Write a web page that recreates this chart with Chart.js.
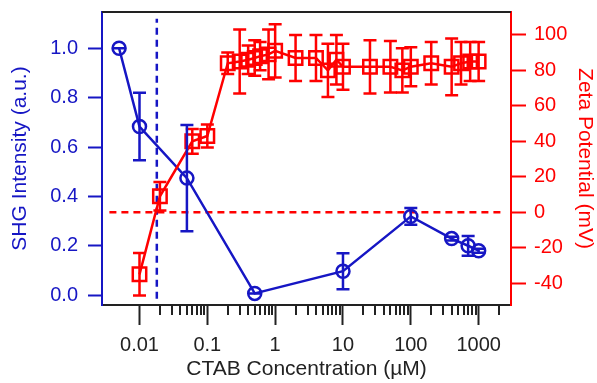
<!DOCTYPE html>
<html>
<head>
<meta charset="utf-8">
<script src="https://cdn.jsdelivr.net/npm/chart.js@4.4.1/dist/chart.umd.min.js"></script>
<style>
  html, body { margin: 0; padding: 0; background: #fff; }
  #wrap { width: 597px; height: 383px; }
</style>
</head>
<body>
<div id="wrap"><canvas id="c"></canvas></div>
<script>
/* SHG intensity (left axis, blue circles) */
const blueConc = [0.005, 0.01, 0.05, 0.5, 10, 100, 400, 700, 1000];
const blueShg  = [1.0, 0.683, 0.474, 0.007, 0.097, 0.319, 0.229, 0.2, 0.18];
const blueErr  = [0, 0.137, 0.215, 0, 0.073, 0.034, 0.008, 0.04, 0.008];

/* zeta potential (right axis, red squares) */
const redConc = [0.01, 0.02, 0.06, 0.1, 0.2, 0.3, 0.4, 0.5, 0.6, 0.8, 1, 2, 4, 6, 8, 10, 25, 50, 75, 100, 200, 400, 550, 750, 1000];
const redZeta = [-35, 9, 40, 43, 84, 85, 86, 87, 88, 89, 91, 87, 87, 80, 86, 82, 82, 82, 80, 82, 84, 82, 84, 85, 85];
const redErr  = [12, 8, 7, 6.5, 6, 18, 8, 10, 8, 14, 15, 13, 13, 15, 14, 13, 15, 14.5, 12.5, 11, 12, 16, 12, 11, 11];

/* reference lines */
const cmcConc = 0.018;
const cmcLineY = [-0.015, 1.12];
const zeroLineX = [0.0036, 2400];

/* ticks */
const xMajorTicks = [0.01, 0.1, 1, 10, 100, 1000];
const xTickLabels = ['0.01', '0.1', '1', '10', '100', '1000'];
const yLeftTicks  = [0, 0.2, 0.4, 0.6, 0.8, 1.0];
const yRightTicks = [-40, -20, 0, 20, 40, 60, 80, 100];

const BLUE = '#1616c4';
const RED = '#ff0000';
const AXIS = '#222222';
const FONT = "'Liberation Sans', Arial, sans-serif";
const LW = 2.5;

const pts = (xs, ys) => xs.map((x, i) => ({x: x, y: ys[i]}));

/* vertical error bars with caps */
const errorBars = {
    id: 'errorBars',
    afterDatasetsDraw(chart) {
        const ctx = chart.ctx;
        chart.data.datasets.forEach((ds, i) => {
            if (!ds.errors) return;
            const meta = chart.getDatasetMeta(i);
            const sx = chart.scales[meta.xAxisID];
            const sy = chart.scales[meta.yAxisID];
            ctx.save();
            ctx.strokeStyle = ds.borderColor;
            ctx.lineWidth = LW;
            ds.data.forEach((p, j) => {
                const px = sx.getPixelForValue(p.x);
                const top = sy.getPixelForValue(p.y + ds.errors[j]);
                const bot = sy.getPixelForValue(p.y - ds.errors[j]);
                ctx.beginPath();
                ctx.moveTo(px, top); ctx.lineTo(px, bot);
                ctx.moveTo(px - 6.5, top); ctx.lineTo(px + 6.5, top);
                ctx.moveTo(px - 6.5, bot); ctx.lineTo(px + 6.5, bot);
                ctx.stroke();
            });
            ctx.restore();
        });
    }
};

/* minor log ticks on x and the top frame line */
const frame = {
    id: 'frame',
    afterDraw(chart) {
        const ctx = chart.ctx;
        const area = chart.chartArea;
        const sx = chart.scales.x;
        ctx.save();
        ctx.strokeStyle = AXIS;
        ctx.lineWidth = 2;
        ctx.beginPath();
        xMajorTicks.forEach(d => {
            for (let m = 2; m <= 9; m++) {
                const v = m * d;
                if (v >= sx.max) continue;
                const px = Math.round(sx.getPixelForValue(v));
                ctx.moveTo(px, area.bottom);
                ctx.lineTo(px, area.bottom + 10);
            }
        });
        ctx.moveTo(area.left, area.top);
        ctx.lineTo(area.right, area.top);
        ctx.stroke();
        ctx.restore();
    }
};

new Chart(document.getElementById('c'), {
    type: 'line',
    data: {
        datasets: [
            {
                label: 'Zeta Potential',
                data: pts(redConc, redZeta),
                errors: redErr,
                yAxisID: 'y2',
                borderColor: RED,
                borderWidth: LW,
                pointStyle: 'rect',
                pointRadius: 9.5,
                pointBorderWidth: LW,
                pointBorderColor: RED,
                pointBackgroundColor: 'rgba(0,0,0,0)',
                tension: 0
            },
            {
                label: 'SHG Intensity',
                data: pts(blueConc, blueShg),
                errors: blueErr,
                yAxisID: 'y',
                borderColor: BLUE,
                borderWidth: LW,
                pointStyle: 'circle',
                pointRadius: 6.5,
                pointBorderWidth: LW,
                pointBorderColor: BLUE,
                pointBackgroundColor: 'rgba(0,0,0,0)',
                tension: 0
            },
            {
                label: 'zero',
                data: pts(zeroLineX, [0, 0]),
                yAxisID: 'y2',
                borderColor: RED,
                borderWidth: LW,
                borderDash: [7, 5],
                pointRadius: 0
            },
            {
                label: 'cmc',
                data: pts([cmcConc, cmcConc], cmcLineY),
                yAxisID: 'y',
                borderColor: BLUE,
                borderWidth: LW,
                borderDash: [7, 5],
                pointRadius: 0
            }
        ]
    },
    options: {
        responsive: true,
        maintainAspectRatio: false,
        animation: false,
        layout: { padding: { top: 10, left: 0, right: 0, bottom: 0 } },
        plugins: { legend: { display: false }, tooltip: { enabled: false } },
        scales: {
            x: {
                type: 'logarithmic',
                position: 'bottom',
                min: 0.0028,
                max: 3000,
                afterBuildTicks: s => { s.ticks = xMajorTicks.map(v => ({value: v, major: true})); },
                afterFit: s => { s.height = 78; s.paddingLeft = 0; s.paddingRight = 0; },
                border: { display: true, color: AXIS, width: 2 },
                grid: { display: true, drawOnChartArea: false, drawTicks: true, tickLength: 20, tickWidth: 2, tickColor: AXIS, color: AXIS },
                ticks: {
                    autoSkip: false, maxRotation: 0, padding: 8, color: AXIS,
                    font: { family: FONT, size: 20 },
                    callback: (v, i) => xTickLabels[i]
                },
                title: {
                    display: true, text: 'CTAB Concentration (µM)', color: AXIS,
                    font: { family: FONT, size: 21 }, padding: { top: 0, bottom: 1 }
                }
            },
            y: {
                type: 'linear',
                position: 'left',
                min: -0.04,
                max: 1.147,
                afterBuildTicks: s => { s.ticks = yLeftTicks.map(v => ({value: v})); },
                afterFit: s => { s.width = 102; s.paddingTop = 0; s.paddingBottom = 0; },
                border: { display: true, color: BLUE, width: 2 },
                grid: { display: true, drawOnChartArea: false, drawTicks: true, tickLength: 14, tickWidth: 2, tickColor: BLUE, color: BLUE },
                ticks: {
                    padding: 10, color: BLUE,
                    font: { family: FONT, size: 20 },
                    callback: v => v.toFixed(1)
                },
                title: {
                    display: true, text: 'SHG Intensity (a.u.)', color: BLUE,
                    font: { family: FONT, size: 21 }, padding: { top: 8, bottom: 0 }
                }
            },
            y2: {
                type: 'linear',
                position: 'right',
                min: -52.3,
                max: 112.9,
                afterBuildTicks: s => { s.ticks = yRightTicks.map(v => ({value: v})); },
                afterFit: s => { s.width = 86; s.paddingTop = 0; s.paddingBottom = 0; },
                border: { display: true, color: RED, width: 2 },
                grid: { display: true, drawOnChartArea: false, drawTicks: true, tickLength: 15, tickWidth: 2, tickColor: RED, color: RED },
                ticks: {
                    padding: 8, color: RED,
                    font: { family: FONT, size: 20 },
                    callback: v => String(v)
                },
                title: {
                    display: true, text: 'Zeta Potential (mV)', color: RED,
                    font: { family: FONT, size: 21 }, padding: { top: 0, bottom: 0 }
                }
            }
        }
    },
    plugins: [errorBars, frame]
});
</script>
</body>
</html>
